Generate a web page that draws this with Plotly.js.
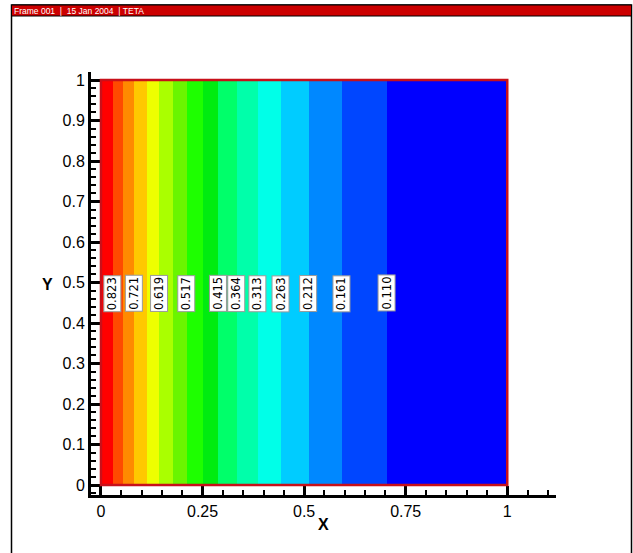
<!DOCTYPE html>
<html>
<head>
<meta charset="utf-8">
<script src="https://cdn.plot.ly/plotly-3.0.1.min.js"></script>
<style>html,body{margin:0;padding:0;background:#fff;}#plot{width:633px;height:553px;}</style>
</head>
<body>
<div id="plot"></div>
<script>
// Band edges along X (contour line positions)
const bandEdges = [0, 0.029, 0.055, 0.082, 0.113, 0.144, 0.176, 0.211, 0.250, 0.289, 0.334, 0.386, 0.443, 0.511, 0.593, 0.704, 1];
// Contour level values at bandEdges[1..15]
const levelValues = [0.823, 0.772, 0.721, 0.670, 0.619, 0.568, 0.517, 0.466, 0.415, 0.364, 0.313, 0.263, 0.212, 0.161, 0.110];
// Levels that carry a label in the picture
const labelledLevels = [0.823, 0.721, 0.619, 0.517, 0.415, 0.364, 0.313, 0.263, 0.212, 0.161, 0.110];
// Band index (left to right) used as z
const bandIndex = [0, 1, 2, 3, 4, 5, 6, 7, 8, 9, 10, 11, 12, 13, 14, 15];
const bandColors = ['#ff0000', '#ff4a00', '#ff8a00', '#ffc800', '#eeff00', '#aaff00', '#6af500', '#1eff00',
                    '#00ec10', '#00ff6a', '#00ffaa', '#00ffe8', '#00ccff', '#0088ff', '#0046ff', '#0000ff'];
const yEdges = [0, 1];
const xTickVals = [0, 0.25, 0.5, 0.75, 1];
const xTickText = ['0', '0.25', '0.5', '0.75', '1'];
const yTickVals = [0, 0.1, 0.2, 0.3, 0.4, 0.5, 0.6, 0.7, 0.8, 0.9, 1];
const yTickText = ['0', '0.1', '0.2', '0.3', '0.4', '0.5', '0.6', '0.7', '0.8', '0.9', '1'];
const headerText = 'Frame 001&nbsp;&nbsp;|&nbsp;&nbsp;15 Jan 2004&nbsp;&nbsp;|&nbsp;TETA';

// plot-area geometry (pixels)
const L = 91, T = 72, W = 465, H = 423;
const px2x = p => (p - L) / W;
const py2y = p => (T + H - p) / H;

const n = bandColors.length;
const colorscale = [];
bandColors.forEach((c, i) => { colorscale.push([i / n, c]); colorscale.push([(i + 1) / n, c]); });

const trace = {
  type: 'heatmap',
  x: bandEdges,
  y: yEdges,
  z: [bandIndex],
  colorscale: colorscale,
  zmin: -0.5, zmax: n - 0.5,
  zsmooth: false,
  showscale: false,
  hoverinfo: 'skip'
};

const annotations = labelledLevels.map(v => ({
  x: bandEdges[levelValues.indexOf(v) + 1], y: 0.473, xref: 'x', yref: 'y',
  xanchor: 'center', yanchor: 'middle',
  text: v.toFixed(3), showarrow: false, textangle: -90,
  font: {family: 'DejaVu Sans, sans-serif', size: 11.5, color: '#000'},
  bgcolor: '#ffffff', bordercolor: '#9a9a9a', borderwidth: 1, borderpad: 1
}));
annotations.push({
  x: px2x(323), y: py2y(524), xref: 'paper', yref: 'paper', text: '<b>X</b>', showarrow: false,
  xanchor: 'center', yanchor: 'middle',
  font: {family: 'Arial, Liberation Sans, sans-serif', size: 16, color: '#000'}
});
annotations.push({
  x: px2x(47), y: py2y(284), xref: 'paper', yref: 'paper', text: '<b>Y</b>', showarrow: false,
  xanchor: 'center', yanchor: 'middle',
  font: {family: 'Arial, Liberation Sans, sans-serif', size: 16, color: '#000'}
});
annotations.push({
  x: px2x(11.5), y: py2y(10.5), xref: 'paper', yref: 'paper', text: headerText, showarrow: false,
  xanchor: 'left', yanchor: 'middle',
  font: {family: 'Arial, Liberation Sans, sans-serif', size: 8.5, color: '#ffffff'}
});

const shapes = [
  {type: 'rect', xref: 'paper', yref: 'paper', x0: px2x(11.5), x1: px2x(631.5), y0: py2y(5), y1: py2y(600),
   line: {color: '#000', width: 1.5}, fillcolor: 'rgba(0,0,0,0)', layer: 'below'},
  {type: 'rect', xref: 'paper', yref: 'paper', x0: px2x(11.5), x1: px2x(631.5), y0: py2y(16), y1: py2y(5),
   line: {color: '#000', width: 1}, fillcolor: '#cc0000', layer: 'below'},
  {type: 'rect', xref: 'x', yref: 'y', x0: bandEdges[0], x1: bandEdges[bandEdges.length - 1], y0: yEdges[0], y1: yEdges[1],
   line: {color: '#c8101a', width: 2.5}, fillcolor: 'rgba(0,0,0,0)', layer: 'above'}
];

const axisCommon = {
  showline: true, linewidth: 3, linecolor: '#000', mirror: false,
  showgrid: false, zeroline: false, ticks: 'inside', ticklen: 9, tickwidth: 3, tickcolor: '#000',
  tickfont: {family: 'Arial, Liberation Sans, sans-serif', size: 16, color: '#000'},
  fixedrange: true
};

const layout = {
  width: 633, height: 553,
  margin: {l: L, r: 633 - L - W, t: T, b: 553 - T - H, pad: 0},
  paper_bgcolor: '#ffffff', plot_bgcolor: '#ffffff',
  showlegend: false,
  xaxis: Object.assign({}, axisCommon, {
    range: [-0.0246, 1.12], tickmode: 'array', tickvals: xTickVals, ticktext: xTickText,
    minor: {tick0: 0, dtick: 0.05, ticks: 'inside', ticklen: 5, tickwidth: 2, tickcolor: '#000', showgrid: false}
  }),
  yaxis: Object.assign({}, axisCommon, {
    range: [-0.0247, 1.0198], tickmode: 'array', tickvals: yTickVals, ticktext: yTickText,
    minor: {tick0: 0, dtick: 0.02, ticks: 'inside', ticklen: 5, tickwidth: 2, tickcolor: '#000', showgrid: false}
  }),
  annotations: annotations,
  shapes: shapes
};

Plotly.newPlot('plot', [trace], layout, {staticPlot: true, displayModeBar: false});
</script>
</body>
</html>
